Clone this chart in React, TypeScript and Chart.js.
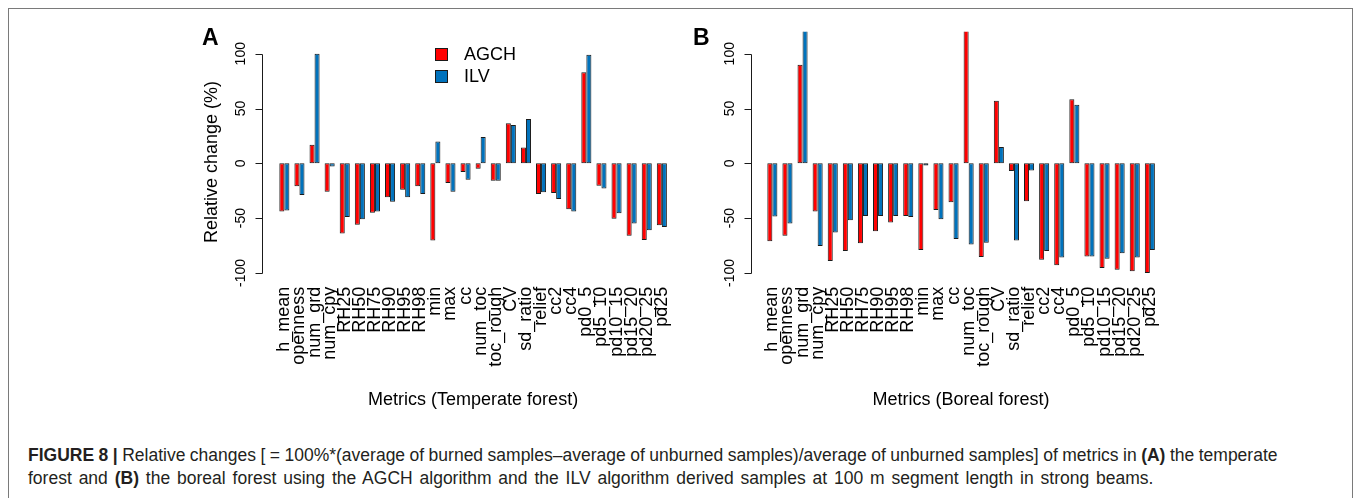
import React, { useEffect, useRef } from 'react';
import { Chart, registerables } from 'chart.js';

Chart.register(...registerables);

const CATEGORIES = ['h_mean', 'openness', 'num_grd', 'num_cpy', 'RH25', 'RH50', 'RH75', 'RH90', 'RH95', 'RH98', 'min', 'max', 'cc', 'num_toc', 'toc_rough', 'CV', 'sd_ratio', 'relief', 'cc2', 'cc4', 'pd0_5', 'pd5_10', 'pd10_15', 'pd15_20', 'pd20_25', 'pd25'];

const TEMPERATE_AGCH = [-44, -21, 17, -26, -64, -56, -45, -31, -24, -21, -70.5, -18, -8, -5, -16, 36.5, 14.5, -28, -27, -42, 83, -20.5, -50.5, -66, -70, -56.5];
const TEMPERATE_ILV = [-43, -29, 100, -3, -49, -51, -44, -35, -31, -28, 20, -26, -15, 24, -16, 35, 40.5, -26.5, -32.5, -44, 99, -23, -45.5, -55, -61, -58];

const BOREAL_AGCH = [-71, -66, 90, -44, -89, -80, -73, -62, -54, -48, -79, -42.5, -35.5, 140, -85.5, 57, -7, -34.5, -88, -93, 58.5, -85, -95.5, -97, -98.5, -100];
const BOREAL_ILV = [-48.5, -55, 135, -75.5, -63, -52, -48, -48, -48, -49, -2, -51, -69, -74, -72.5, 15, -70.5, -6.5, -80, -86, 53.5, -85, -87, -82, -86, -79];

const SERIES_NAMES = ['AGCH', 'ILV'];
const SERIES_COLORS = ['#FF0000', '#0072BC'];
const Y_TICKS = [-100, -50, 0, 50, 100];
const Y_MIN = -108;
const Y_MAX = 120;
const Y_TITLE = 'Relative change (%)';

const FONT = "'Liberation Sans', Arial, Helvetica, sans-serif";
const CANVAS_H = 420;

type PanelCfg = {
  letter: string;
  agch: number[];
  ilv: number[];
  xTitle: string;
  showYTitle: boolean;
  showLegend: boolean;
  left: number;
  width: number;
  padLeft: number;
  padRight: number;
  axisGap: number;
  letterX: number;
};

const PANELS: PanelCfg[] = [
  {
    letter: 'A', agch: TEMPERATE_AGCH, ilv: TEMPERATE_ILV, xTitle: 'Metrics (Temperate forest)',
    showYTitle: true, showLegend: true, left: 0, width: 680, padLeft: 276.8, padRight: 10.6, axisGap: 14.8, letterX: 202,
  },
  {
    letter: 'B', agch: BOREAL_AGCH, ilv: BOREAL_ILV, xTitle: 'Metrics (Boreal forest)',
    showYTitle: false, showLegend: false, left: 680, width: 676, padLeft: 84.8, padRight: 198.6, axisGap: 13.8, letterX: 13,
  },
];

function makePlugin(cfg: PanelCfg) {
  return {
    id: 'rstyle' + cfg.letter,
    afterDraw(chart: any) {
      const ctx = chart.ctx as CanvasRenderingContext2D;
      const area = chart.chartArea;
      const ys = chart.scales.y;
      const axisX = Math.round(area.left - cfg.axisGap) + 0.5;
      ctx.save();
      ctx.strokeStyle = '#1a1a1a';
      ctx.lineWidth = 1;
      ctx.beginPath();
      const yTop = Math.round(ys.getPixelForValue(Y_TICKS[Y_TICKS.length - 1])) + 0.5;
      const yBot = Math.round(ys.getPixelForValue(Y_TICKS[0])) + 0.5;
      ctx.moveTo(axisX, yTop);
      ctx.lineTo(axisX, yBot);
      Y_TICKS.forEach((t) => {
        const py = Math.round(ys.getPixelForValue(t)) + 0.5;
        ctx.moveTo(axisX - 7, py);
        ctx.lineTo(axisX, py);
      });
      ctx.stroke();

      ctx.fillStyle = '#000';
      ctx.font = `14px ${FONT}`;
      ctx.textAlign = 'center';
      ctx.textBaseline = 'middle';
      Y_TICKS.forEach((t) => {
        const py = ys.getPixelForValue(t);
        ctx.save();
        ctx.translate(axisX - 21, py);
        ctx.rotate(-Math.PI / 2);
        ctx.fillText(String(t), 0, 0);
        ctx.restore();
      });

      if (cfg.showYTitle) {
        ctx.save();
        ctx.font = `18px ${FONT}`;
        ctx.translate(212, 162);
        ctx.rotate(-Math.PI / 2);
        ctx.fillText(Y_TITLE, 0, 0);
        ctx.restore();
      }

      ctx.font = `bold 23px ${FONT}`;
      ctx.textAlign = 'left';
      ctx.textBaseline = 'alphabetic';
      ctx.fillText(cfg.letter, cfg.letterX, 45);

      if (cfg.showLegend) {
        ctx.font = `18px ${FONT}`;
        ctx.textBaseline = 'middle';
        SERIES_NAMES.forEach((name, i) => {
          const by = 48 + i * 22;
          ctx.fillStyle = SERIES_COLORS[i];
          ctx.fillRect(435, by, 13, 13);
          ctx.strokeStyle = '#1a1a1a';
          ctx.strokeRect(435.5, by + 0.5, 12, 12);
          ctx.fillStyle = '#000';
          ctx.fillText(name, 464, by + 7);
        });
      }
      ctx.restore();
    },
  };
}

function Panel({ cfg }: { cfg: PanelCfg }) {
  const ref = useRef<HTMLCanvasElement | null>(null);
  useEffect(() => {
    if (!ref.current) return;
    const series = [cfg.agch, cfg.ilv];
    const chart = new Chart(ref.current, {
      type: 'bar',
      data: {
        labels: CATEGORIES,
        datasets: series.map((d, i) => ({
          label: SERIES_NAMES[i],
          data: d,
          backgroundColor: SERIES_COLORS[i],
          borderColor: '#1a1a1a',
          borderWidth: 1,
          borderSkipped: false,
          categoryPercentage: 2 / 3,
          barPercentage: 1,
          clip: 0,
        })),
      },
      options: {
        responsive: false,
        animation: false,
        devicePixelRatio: 1,
        layout: { padding: { left: cfg.padLeft, right: cfg.padRight, top: 31.8, bottom: 9.2 } },
        plugins: { legend: { display: false }, tooltip: { enabled: false }, title: { display: false } },
        scales: {
          x: {
            type: 'category',
            offset: true,
            grid: { display: false, drawTicks: false },
            border: { display: false },
            ticks: {
              autoSkip: false,
              minRotation: 90,
              maxRotation: 90,
              padding: 5,
              color: '#000',
              font: { family: FONT, size: 18 },
            },
            title: {
              display: true,
              text: cfg.xTitle,
              color: '#000',
              padding: 0,
              font: { family: FONT, size: 18 },
            },
            afterFit: (scale: any) => {
              scale.height = 129.1;
              scale.paddingLeft = 0;
              scale.paddingRight = 0;
            },
          },
          y: {
            display: false,
            min: Y_MIN,
            max: Y_MAX,
          },
        },
      },
      plugins: [makePlugin(cfg)],
    } as any);
    return () => chart.destroy();
  }, []);
  return (
    <canvas
      ref={ref}
      width={cfg.width}
      height={CANVAS_H}
      style={{ position: 'absolute', left: cfg.left, top: 0, width: cfg.width, height: CANVAS_H }}
    />
  );
}

export default function App() {
  return (
    <div style={{ position: 'absolute', left: 0, top: 0, width: 1356, height: 498, background: '#fff', overflow: 'hidden', fontFamily: FONT }}>
      <div style={{ position: 'absolute', left: 8, top: 8, width: 1343, height: 600, borderTop: '1px solid #7a7a7a', borderLeft: '1px solid #7a7a7a', borderRight: '1px solid #7a7a7a' }} />
      {PANELS.map((p) => (
        <Panel key={p.letter} cfg={p} />
      ))}
      <div style={{ position: 'absolute', left: 28, top: 444, fontSize: 17.5, lineHeight: '23px', color: '#231f20', whiteSpace: 'nowrap' }}>
        <div style={{ wordSpacing: '-0.4px' }}>
          <b>FIGURE 8 | </b>Relative changes [ = 100%*(average of burned samples–average of unburned samples)/average of unburned samples] of metrics in <b>(A)</b> the temperate
        </div>
        <div style={{ wordSpacing: '2px' }}>
          forest and <b>(B)</b> the boreal forest using the AGCH algorithm and the ILV algorithm derived samples at 100 m segment length in strong beams.
        </div>
      </div>
    </div>
  );
}
